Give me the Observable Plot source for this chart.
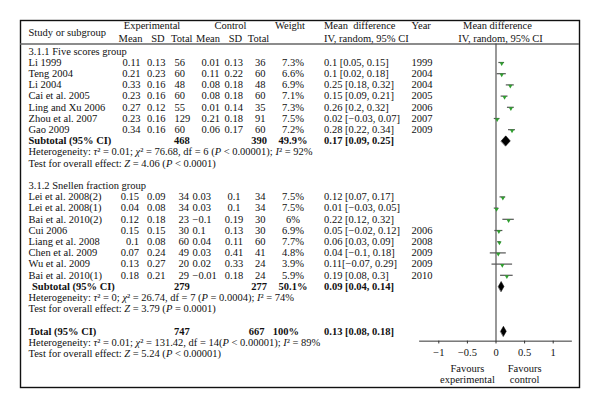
<!DOCTYPE html>
<html><head><meta charset="utf-8">
<script src="https://cdn.jsdelivr.net/npm/d3@7"></script>
<script src="https://cdn.jsdelivr.net/npm/@observablehq/plot@0.6"></script>
<style>body{margin:0;background:#fff}</style>
</head><body><div id="chart"></div>
<script>
// ---- data ----
const studies = ["Li 1999","Teng 2004","Li 2004","Cai et al. 2005","Ling and Xu 2006","Zhou et al. 2007","Gao 2009",
  "Lei et al. 2008(2)","Lei et al. 2008(1)","Bai et al. 2010(2)","Cui 2006","Liang et al. 2008","Chen et al. 2009","Wu et al. 2009","Bai et al. 2010(1)"];
const subgroup = [1,1,1,1,1,1,1,2,2,2,2,2,2,2,2];
const groupLabels = ["3.1.1 Five scores group","3.1.2 Snellen fraction group"];
const expMean = ["0.11","0.21","0.33","0.23","0.27","0.23","0.34","0.15","0.04","0.12","0.15","0.1","0.07","0.13","0.18"];
const expSD = ["0.13","0.23","0.16","0.16","0.12","0.16","0.16","0.09","0.08","0.18","0.15","0.08","0.24","0.27","0.21"];
const expN = [56,60,48,60,55,129,60,34,34,23,30,60,49,20,29];
const ctrlMean = ["0.01","0.11","0.08","0.08","0.01","0.21","0.06","0.03","0.03","\u22120.1","0.1","0.04","0.03","0.02","\u22120.01"];
const ctrlSD = ["0.13","0.22","0.18","0.18","0.14","0.18","0.17","0.1","0.1","0.19","0.13","0.11","0.41","0.33","0.18"];
const ctrlN = [36,60,48,60,35,91,60,34,34,30,30,60,41,24,24];
const weights = ["7.3%","6.6%","6.9%","7.1%","7.3%","7.5%","7.2%","7.5%","7.5%","6%","6.9%","7.7%","4.8%","3.9%","5.9%"];
const md = [0.1,0.1,0.25,0.15,0.26,0.02,0.28,0.12,0.01,0.22,0.05,0.06,0.04,0.11,0.19];
const ciLow = [0.05,0.02,0.18,0.09,0.2,-0.03,0.22,0.07,-0.03,0.12,-0.02,0.03,-0.1,-0.07,0.08];
const ciHigh = [0.15,0.18,0.32,0.21,0.32,0.07,0.34,0.17,0.05,0.32,0.12,0.09,0.18,0.29,0.3];
const ciText = ["0.1 [0.05, 0.15]","0.1 [0.02, 0.18]","0.25 [0.18, 0.32]","0.15 [0.09, 0.21]","0.26 [0.2, 0.32]","0.02 [\u22120.03, 0.07]","0.28 [0.22, 0.34]",
  "0.12 [0.07, 0.17]","0.01 [\u22120.03, 0.05]","0.22 [0.12, 0.32]","0.05 [\u22120.02, 0.12]","0.06 [0.03, 0.09]","0.04 [\u22120.1, 0.18]","0.11[\u22120.07, 0.29]","0.19 [0.08, 0.3]"];
const years = ["1999","2004","2004","2005","2006","2007","2009","","","","2006","2008","2009","2009","2010"];

const subLabels = ["Subtotal (95% CI)","Subtotal (95% CI)","Total (95% CI)"];
const subExpN = [468,279,747];
const subCtrlN = [390,277,667];
const subWeight = ["49.9%","50.1%","100%"];
const subMd = [0.17,0.09,0.13];
const subLow = [0.09,0.04,0.08];
const subHigh = [0.25,0.14,0.18];
const subCiText = ["0.17 [0.09, 0.25]","0.09 [0.04, 0.14]","0.13 [0.08, 0.18]"];
const hetText = [
  "Heterogeneity: \u03c4\u00b2 = 0.01; \u03c7\u00b2 = 76.68, df = 6 (P < 0.00001); I\u00b2 = 92%",
  "Heterogeneity: \u03c4\u00b2 = 0; \u03c7\u00b2 = 26.74, df = 7 (P = 0.0004); I\u00b2 = 74%",
  "Heterogeneity: \u03c4\u00b2 = 0.01; \u03c7\u00b2 = 131.42, df = 14(P < 0.00001); I\u00b2 = 89%"];
const testText = [
  "Test for overall effect: Z = 4.06 (P < 0.0001)",
  "Test for overall effect: Z = 3.79 (P = 0.0001)",
  "Test for overall effect: Z = 5.24 (P < 0.00001)"];
const tickValues = [-1,-0.5,0,0.5,1];
const tickLabels = ["\u22121","\u22120.5","0","0.5","1"];
const favours = ["Favours\nexperimental","Favours\ncontrol"];
const favoursAt = [-0.5, 0.5];

// ---- layout (rows) ----
const rows = [];
const groupRow = [], subRow = [];
let start = 0;
[1,2].forEach((g, gi) => {
  groupRow.push(start);
  let k = 0;
  studies.forEach((s, i) => {
    if (subgroup[i] !== g) return;
    k++;
    rows.push({i, g, row: start + k, name: s, em: expMean[i], esd: expSD[i], en: expN[i], cm: ctrlMean[i],
      csd: ctrlSD[i], cn: ctrlN[i], w: weights[i], md: md[i], lo: ciLow[i], hi: ciHigh[i], ci: ciText[i], yr: years[i]});
  });
  subRow.push(start + k + 1);
  start = start + k + 5;
});
subRow.push(start);
const summary = subLabels.map((l, j) => ({j, row: subRow[j], label: l, en: subExpN[j], cn: subCtrlN[j], w: subWeight[j],
  md: subMd[j], lo: subLow[j], hi: subHigh[j], ci: subCiText[j], het: hetText[j], test: testText[j]}));
const diamonds = summary.flatMap(s => [
  {k: s.j, x: s.lo, y: s.row}, {k: s.j, x: s.md, y: s.row - 0.45},
  {k: s.j, x: s.hi, y: s.row}, {k: s.j, x: s.md, y: s.row + 0.45}]);

const ML = 20;
const axisRow = 25.88, headRule = -0.65;
const col = (px) => px - ML;
const T = (data, opts) => Plot.text(data, {frameAnchor: "left", ...opts});
const g1 = rows.filter(d => d.g === 1), g2 = rows.filter(d => d.g === 2);
const subs = summary.slice(0, 2), tot = summary.slice(2);

const header = (str, row, px, anchor, extra = {}) =>
  Plot.text([str], {text: d => d, y: row, frameAnchor: "left", dx: col(px), textAnchor: anchor, ...extra});
const R1 = -2.25, R2 = -1.15;

const chart = Plot.plot({
  width: 600, height: 408,
  marginLeft: ML, marginTop: 20, marginRight: 21, marginBottom: 21,
  style: {fontFamily: "'Liberation Serif', 'DejaVu Serif', serif", fontSize: "10.5px", background: "#fff", color: "#111"},
  x: {domain: [-1, 1], range: [438.3, 552.7], axis: null},
  y: {domain: [0, 27], range: [50.8, 353.2], axis: null},
  marks: [
    Plot.frame({stroke: "#111", strokeWidth: 1.4}),
    Plot.ruleY([headRule], {stroke: "#666", strokeWidth: 1.6}),
    // headers
    header("Study or subgroup", -1.7, 28, "start"),
    header("Experimental", R1, 151.5, "middle"),
    header("Mean", R2, 130, "middle"),
    header("SD", R2, 157.5, "middle"),
    header("Total", R2, 181.3, "middle"),
    header("Control", R1, 230, "middle"),
    header("Mean", R2, 207.5, "middle"),
    header("SD", R2, 235, "middle"),
    header("Total", R2, 258, "middle"),
    header("Weight", R1, 289.5, "middle"),
    header("Mean  difference", R1, 323.5, "start"),
    header("IV, random, 95% CI", R2, 323.5, "start"),
    header("Year", R1, 411, "start"),
    header("Mean difference", R1, 497, "middle"),
    header("IV, random, 95% CI", R2, 500, "middle"),
    // group labels
    Plot.text(groupLabels, {text: d => d, y: (d, i) => groupRow[i], frameAnchor: "left", dx: col(28), textAnchor: "start"}),
    // study rows
    T(rows, {y: "row", text: "name", dx: col(28), textAnchor: "start"}),
    T(g1, {y: "row", text: "em", dx: col(140), textAnchor: "end"}),
    T(g2, {y: "row", text: "em", dx: col(138.5), textAnchor: "end"}),
    T(rows, {y: "row", text: "esd", dx: col(146.5), textAnchor: "start"}),
    T(g1, {y: "row", text: "en", dx: col(174), textAnchor: "start"}),
    T(g2, {y: "row", text: "en", dx: col(188.5), textAnchor: "end"}),
    T(g1, {y: "row", text: "cm", dx: col(201), textAnchor: "start"}),
    T(g2, {y: "row", text: "cm", dx: col(192), textAnchor: "start"}),
    T(g1, {y: "row", text: "csd", dx: col(224), textAnchor: "start"}),
    T(g2, {y: "row", text: "csd", dx: col(233.5), textAnchor: "middle"}),
    T(rows, {y: "row", text: "cn", dx: col(265), textAnchor: "end"}),
    T(rows, {y: "row", text: "w", dx: col(292.5), textAnchor: "middle"}),
    T(rows, {y: "row", text: "ci", dx: col(323.5), textAnchor: "start"}),
    T(rows, {y: "row", text: "yr", dx: col(411), textAnchor: "start"}),
    // subtotals / total
    T(summary.filter(d => d.j !== 1), {y: "row", text: "label", dx: col(28), textAnchor: "start", fontWeight: "bold"}),
    T(summary.filter(d => d.j === 1), {y: "row", text: "label", dx: col(31.5), textAnchor: "start", fontWeight: "bold"}),
    T(summary, {y: "row", text: "en", dx: col(173.5), textAnchor: "start", fontWeight: "bold"}),
    T(subs, {y: "row", text: "cn", dx: col(266.5), textAnchor: "end", fontWeight: "bold"}),
    T(tot, {y: "row", text: "cn", dx: col(264), textAnchor: "end", fontWeight: "bold"}),
    T(subs, {y: "row", text: "w", dx: col(292.5), textAnchor: "middle", fontWeight: "bold"}),
    T(tot, {y: "row", text: "w", dx: col(298.5), textAnchor: "end", fontWeight: "bold"}),
    T(summary, {y: "row", text: "ci", dx: col(323.5), textAnchor: "start", fontWeight: "bold"}),
    T(summary, {y: d => d.row + 1, text: "het", dx: col(28), textAnchor: "start"}),
    T(summary, {y: d => d.row + 2, text: "test", dx: col(28), textAnchor: "start"}),
    // forest plot
    Plot.ruleX([0], {y1: headRule, y2: axisRow, stroke: "#444", strokeWidth: 1.1}),
    Plot.ruleY([axisRow], {x1: -1.335, x2: 1.335, stroke: "#333", strokeWidth: 1}),
    Plot.ruleX(tickValues, {y1: axisRow, y2: axisRow + 0.25, stroke: "#333", strokeWidth: 1}),
    Plot.text(tickValues, {x: d => d, y: 26.87, text: (d, i) => tickLabels[i]}),
    Plot.text(favoursAt, {x: d => d, y: 28.84, text: (d, i) => favours[i], lineHeight: 1.05}),
    Plot.ruleY(rows, {y: "row", x1: "lo", x2: "hi", stroke: "#555", strokeWidth: 1.2}),
    Plot.dot(rows, {x: "md", y: "row", symbol: "triangle", rotate: 180, r: 1.6, dy: 1.1, fill: "#2f9e2f", stroke: "none"}),
    Plot.line(diamonds, {x: "x", y: "y", z: "k", curve: "linear-closed", fill: "#000", stroke: "#000", strokeWidth: 0.5})
  ]
});

// italicise statistical symbols
chart.querySelectorAll("text").forEach(t => {
  const s = t.textContent;
  if (!/^(Heterogeneity|Test for)/.test(s)) return;
  const parts = s.split(/((?:^|(?<=[\s(]))[PZIτχ](?=[\s²=]))/);
  while (t.firstChild) t.removeChild(t.firstChild);
  parts.forEach(p => {
    if (!p) return;
    const ts = document.createElementNS("http://www.w3.org/2000/svg", "tspan");
    ts.textContent = p;
    if (/^[PZIτχ]$/.test(p)) ts.setAttribute("font-style", "italic");
    t.appendChild(ts);
  });
});

document.getElementById("chart").appendChild(chart);
</script>
</body></html>
